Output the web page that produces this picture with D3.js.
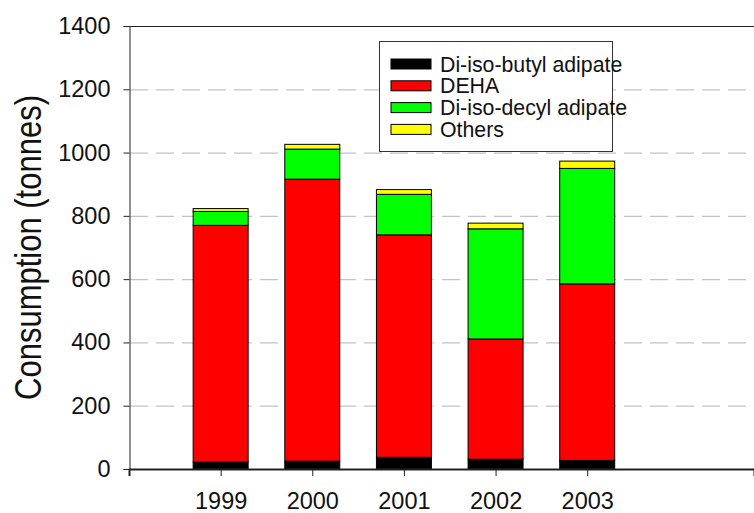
<!DOCTYPE html>
<html>
<head>
<meta charset="utf-8">
<script src="https://cdn.jsdelivr.net/npm/d3@7"></script>
<style>
  body { margin: 0; background: #fff; }
  svg { display: block; }
  text { font-family: "Liberation Sans", Arial, sans-serif; fill: #111; }
</style>
</head>
<body>
<script>
// donnees (tonnes)
const annees = [1999, 2000, 2001, 2002, 2003];
const series = ["Di-iso-butyl adipate", "DEHA", "Di-iso-decyl adipate", "Others"];
const diIsoButyl = [22, 25, 37, 31, 27];
const deha = [748, 891, 703, 380, 558];
const diIsoDecyl = [44, 95, 128, 348, 365];
const autres = [9, 15, 15, 18, 23];
const yTicks = [0, 200, 400, 600, 800, 1000, 1200, 1400];
const couleurs = ["#000000", "#ff0000", "#00ff00", "#ffff00"];

const largeur = 754, hauteur = 513;
const marges = { top: 26, right: 0, bottom: 44, left: 129 };

// table pour d3.stack
const table = annees.map((a, i) => ({
  annee: a,
  [series[0]]: diIsoButyl[i],
  [series[1]]: deha[i],
  [series[2]]: diIsoDecyl[i],
  [series[3]]: autres[i]
}));

const svg = d3.select("body").append("svg")
  .attr("width", largeur)
  .attr("height", hauteur);

const echelleX = d3.scaleLinear()
  .domain([1998, 2004.82])
  .range([marges.left, largeur - marges.right]);

const echelleY = d3.scaleLinear()
  .domain([0, 1400])
  .range([hauteur - marges.bottom, marges.top]);

const largeurBarre = echelleX(1998.6) - echelleX(1998);

// grille en pointillés
svg.append("g")
  .selectAll("line")
  .data(yTicks.filter(t => t > 0 && t < 1400))
  .join("line")
  .attr("x1", marges.left + 1)
  .attr("x2", largeur)
  .attr("y1", d => echelleY(d) + 0.5)
  .attr("y2", d => echelleY(d) + 0.5)
  .attr("stroke", "#c4c4c4")
  .attr("stroke-width", 1.2)
  .attr("stroke-dasharray", "18,8");

// barres empilées
const empilement = d3.stack().keys(series)(table);

svg.append("g")
  .selectAll("g")
  .data(empilement)
  .join("g")
  .attr("fill", (d, i) => couleurs[i])
  .selectAll("rect")
  .data(d => d)
  .join("rect")
  .attr("x", d => echelleX(d.data.annee) - largeurBarre / 2)
  .attr("width", largeurBarre)
  .attr("y", d => echelleY(d[1]))
  .attr("height", d => echelleY(d[0]) - echelleY(d[1]))
  .attr("stroke", "#000")
  .attr("stroke-width", 1);

// axe Y
const axeY = d3.axisLeft(echelleY).tickValues(yTicks).tickFormat(d3.format("d")).tickSize(6).tickPadding(13);
svg.append("g")
  .attr("transform", "translate(" + (marges.left + 0.5) + ",0)")
  .call(axeY)
  .call(g => g.select(".domain").attr("stroke", "#222"))
  .call(g => g.selectAll(".tick line").attr("stroke", "#222"))
  .selectAll("text")
  .attr("font-size", 23.5)
  .attr("font-family", "Liberation Sans, Arial, sans-serif")
  .attr("fill", "#111");

// axe X
const axeX = d3.axisBottom(echelleX).tickValues(annees).tickFormat(d3.format("d")).tickSize(7).tickPadding(16);
svg.append("g")
  .attr("transform", "translate(0," + (hauteur - marges.bottom) + ")")
  .call(axeX)
  .call(g => g.select(".domain").attr("stroke", "#222").attr("stroke-width", 2))
  .call(g => g.selectAll(".tick line").attr("stroke", "#222"))
  .selectAll("text")
  .attr("font-size", 23.5)
  .attr("font-family", "Liberation Sans, Arial, sans-serif")
  .attr("fill", "#111");

// ligne du haut
svg.append("line")
  .attr("x1", marges.left)
  .attr("x2", largeur)
  .attr("y1", marges.top + 0.5)
  .attr("y2", marges.top + 0.5)
  .attr("stroke", "#222");

// titre de l'axe Y (un peu étiré dans la hauteur des lettres)
svg.append("text")
  .attr("transform", "translate(41," + (marges.top + (hauteur - marges.bottom - marges.top) / 2) + ") rotate(-90) scale(1,1.2)")
  .attr("text-anchor", "middle")
  .attr("font-size", 31)
  .text("Consumption (tonnes)");

// légende
const legende = svg.append("g");
legende.append("rect")
  .attr("x", 379.5)
  .attr("y", 41.5)
  .attr("width", 233)
  .attr("height", 110)
  .attr("fill", "#fff")
  .attr("stroke", "#333");

const lignes = legende.selectAll(".item")
  .data(series)
  .join("g")
  .attr("class", "item")
  .attr("transform", (d, i) => "translate(391," + (64 + i * 21.8) + ")");

lignes.append("rect")
  .attr("x", 0)
  .attr("y", -5)
  .attr("width", 40)
  .attr("height", 10)
  .attr("fill", (d, i) => couleurs[i])
  .attr("stroke", "#000")
  .attr("stroke-width", 1);

lignes.append("text")
  .attr("x", 49)
  .attr("y", 7.5)
  .attr("font-size", 21.3)
  .text(d => d);
</script>
</body>
</html>
